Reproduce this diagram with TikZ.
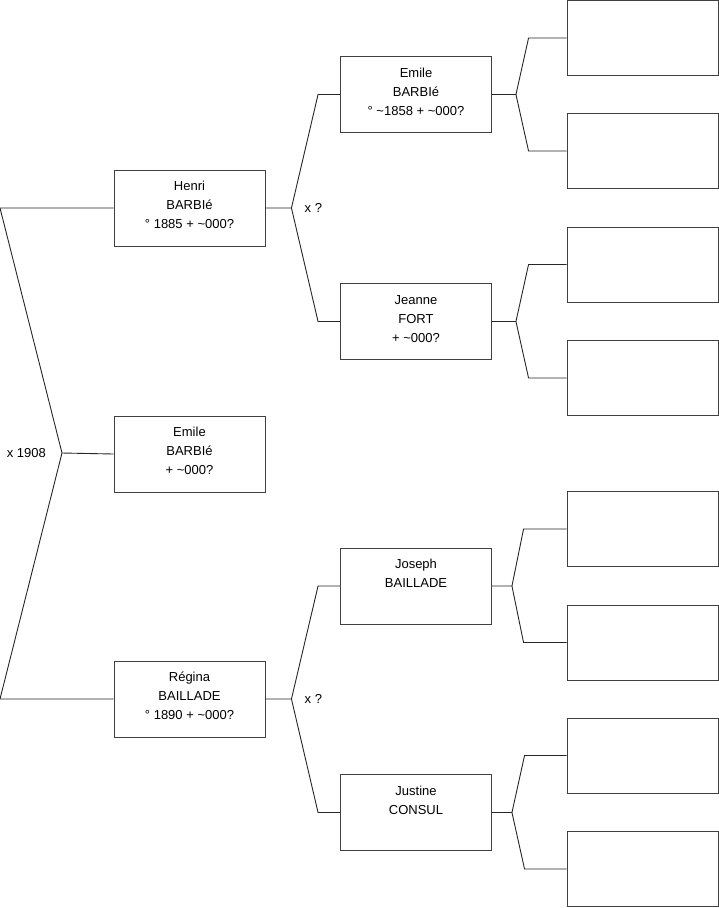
\documentclass[tikz,border=0pt]{standalone}
\usepackage{fontspec}
\setmainfont{Liberation Sans}
\usetikzlibrary{positioning}

\begin{document}
\begin{tikzpicture}[x=1pt, y=-1pt,
    person/.style={draw=black!75, line width=0.9pt, minimum width=151pt,
                   minimum height=76pt, align=center, inner sep=0pt,
                   font=\fontsize{13}{19}\selectfont},
    blank/.style={draw=black!75, line width=0.9pt, minimum width=151pt,
                  minimum height=75pt, inner sep=0pt},
    link/.style={draw=black!85, line width=0.9pt},
    lbl/.style={font=\fontsize{13}{15}\selectfont, inner sep=0pt},
]
\useasboundingbox (0,0) rectangle (719,908);

% --- Root ---
\node[person] (emile) at (189.5,454) {Emile\\BARBIé\\+ \textasciitilde000?\strut};

% --- Parents ---
\node[person] (henri) at (189.5,208)
    {Henri\\BARBIé\\° 1885 + \textasciitilde000?\strut};
\node[person] (regina) at (189.5,699)
    {Régina\\BAILLADE\\° 1890 + \textasciitilde000?\strut};

% --- Grandparents ---
\node[person] (emileB) at (416,94.5)
    {Emile\\BARBIé\\° \textasciitilde1858 + \textasciitilde000?\strut};
\node[person] (jeanne) at (416,321.5)
    {Jeanne\\FORT\\+ \textasciitilde000?\strut};
\node[person] (joseph) at (416,586) {Joseph\\BAILLADE\\\strut};
\node[person] (justine) at (416,812.5) {Justine\\CONSUL\\\strut};

% --- Great-grandparents (empty) ---
\node[blank] (r1) at (642.5,38) {};
\node[blank] (r2) at (642.5,151) {};
\node[blank] (r3) at (642.5,264.5) {};
\node[blank] (r4) at (642.5,378) {};
\node[blank] (r5) at (642.5,529) {};
\node[blank] (r6) at (642.5,642.5) {};
\node[blank] (r7) at (642.5,755.5) {};
\node[blank] (r8) at (642.5,869) {};

% --- Root to parents ---
\coordinate (m1) at (62,453);
\coordinate (lt) at (0,208);
\coordinate (lb) at (0,699);
\draw[link] (henri.west) -- (lt) -- (m1) -- (lb) -- (regina.west);
\draw[link] (m1) -- (emile.west);
\node[lbl, left=16pt of m1] (wed1) {x 1908};

% --- Parents to grandparents ---
\coordinate[right=26pt of henri.east] (j1);
\draw[link] (henri.east) -- (j1) -- ([xshift=-22pt]emileB.west) -- (emileB.west);
\draw[link] (j1) -- ([xshift=-22pt]jeanne.west) -- (jeanne.west);
\node[lbl, right=13pt of j1] (wed2) {x ?};

\coordinate[right=26pt of regina.east] (j2);
\draw[link] (regina.east) -- (j2) -- ([xshift=-22pt]joseph.west) -- (joseph.west);
\draw[link] (j2) -- ([xshift=-22pt]justine.west) -- (justine.west);
\node[lbl, right=13pt of j2] (wed3) {x ?};

% --- Grandparents to empty boxes ---
\coordinate[right=24pt of emileB.east] (k1);
\draw[link] (emileB.east) -- (k1) -- ([xshift=-38pt]r1.west) -- (r1.west);
\draw[link] (k1) -- ([xshift=-38pt]r2.west) -- (r2.west);

\coordinate[right=24pt of jeanne.east] (k2);
\draw[link] (jeanne.east) -- (k2) -- ([xshift=-38pt]r3.west) -- (r3.west);
\draw[link] (k2) -- ([xshift=-38pt]r4.west) -- (r4.west);

\coordinate[right=20pt of joseph.east] (k3);
\draw[link] (joseph.east) -- (k3) -- ([xshift=-43pt]r5.west) -- (r5.west);
\draw[link] (k3) -- ([xshift=-43pt]r6.west) -- (r6.west);

\coordinate[right=20pt of justine.east] (k4);
\draw[link] (justine.east) -- (k4) -- ([xshift=-42pt]r7.west) -- (r7.west);
\draw[link] (k4) -- ([xshift=-42pt]r8.west) -- (r8.west);
\end{tikzpicture}
\end{document}
